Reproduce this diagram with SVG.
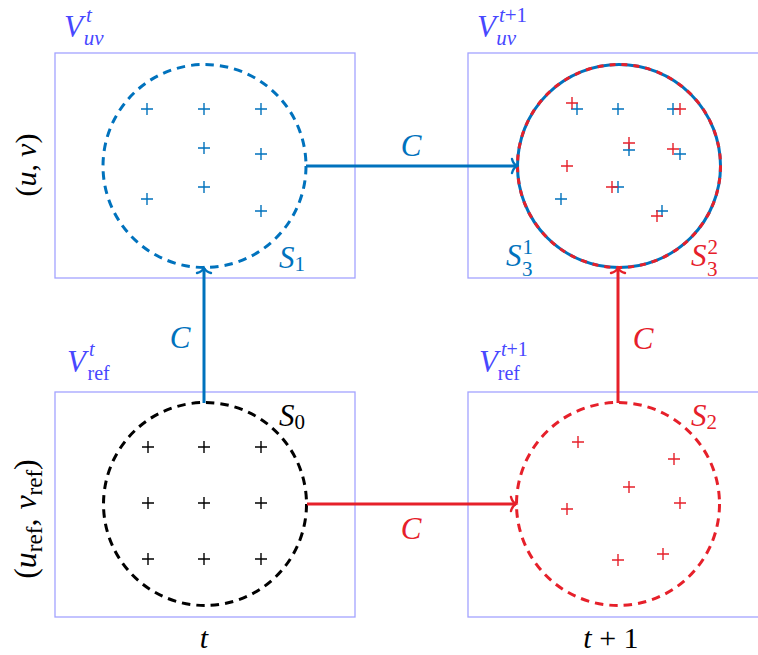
<svg xmlns="http://www.w3.org/2000/svg" width="758" height="655" viewBox="0 0 758 655">
<style>
.box{fill:none;stroke:#a3a3ff;stroke-width:1.3}
.dc{fill:none;stroke-width:3;stroke-dasharray:8.5 6}
.m{font-family:"Liberation Serif","DejaVu Serif",serif;font-style:italic}
.r{font-family:"Liberation Serif","DejaVu Serif",serif;font-style:normal}
.vl{fill:#4848ff}
.blue{fill:#0072bd}
.red{fill:#e6202a}
.blk{fill:#000}
.ar{fill:none;stroke-width:3}
.pb{stroke:#0072bd;stroke-width:1.4;fill:none}
.pr{stroke:#e6202a;stroke-width:1.4;fill:none}
.pk{stroke:#000;stroke-width:1.4;fill:none}
</style>
<defs>
<path id="p" d="M-6,0H6M0,-6V6"/>
<marker id="hb" markerUnits="userSpaceOnUse" markerWidth="20" markerHeight="20" refX="0" refY="0" viewBox="-10 -10 20 20" orient="auto" overflow="visible">
<path d="M-5,-7 C-4,-3 -1.5,-0.8 0,0 C-1.5,0.8 -4,3 -5,7" fill="none" stroke="#0072bd" stroke-width="2.4" stroke-linecap="round"/>
</marker>
<marker id="hr" markerUnits="userSpaceOnUse" markerWidth="20" markerHeight="20" refX="0" refY="0" viewBox="-10 -10 20 20" orient="auto" overflow="visible">
<path d="M-5,-7 C-4,-3 -1.5,-0.8 0,0 C-1.5,0.8 -4,3 -5,7" fill="none" stroke="#e6202a" stroke-width="2.4" stroke-linecap="round"/>
</marker>
</defs>

<g id="axis-labels">
<text class="blk" font-size="30" transform="translate(36,165) rotate(-90)" text-anchor="middle"><tspan class="r">(</tspan><tspan class="m">u</tspan><tspan class="r">,</tspan><tspan class="m" dx="7">v</tspan><tspan class="r">)</tspan></text>
<text class="blk" font-size="32" transform="translate(36,519) rotate(-90)" text-anchor="middle"><tspan class="r">(</tspan><tspan class="m">u</tspan><tspan class="r" font-size="23" dy="6">ref</tspan><tspan class="r" dy="-6">,</tspan><tspan class="m" dx="9">v</tspan><tspan class="r" font-size="23" dy="6">ref</tspan><tspan class="r" dy="-6">)</tspan></text>
<text class="m blk" font-size="30" x="204" y="648" text-anchor="middle">t</text>
<text class="blk" font-size="30" x="611" y="648" text-anchor="middle"><tspan class="m">t</tspan><tspan class="r"> + 1</tspan></text>
</g>

<g id="node-S1">
<rect class="box" x="55" y="53" width="300" height="225"/>
<text class="vl" x="64" y="37"><tspan class="m" font-size="31">V</tspan><tspan class="m" font-size="21" dx="3" dy="-15">t</tspan><tspan class="m" font-size="21" dx="-8" dy="23">uv</tspan></text>
<circle class="dc" cx="204.5" cy="166" r="101.5" stroke="#0072bd"/>
<g class="pb">
<use href="#p" x="147" y="109"/><use href="#p" x="204" y="109"/><use href="#p" x="261" y="109"/>
<use href="#p" x="204" y="148"/><use href="#p" x="261" y="154"/><use href="#p" x="204" y="187"/>
<use href="#p" x="147" y="199"/><use href="#p" x="261" y="211"/>
</g>
<text class="blue" x="279" y="268"><tspan class="m" font-size="31">S</tspan><tspan class="r" font-size="21" dy="3">1</tspan></text>
</g>

<g id="node-S3">
<rect class="box" x="468" y="53" width="300" height="225"/>
<text class="vl" x="477" y="37"><tspan class="m" font-size="31">V</tspan><tspan class="m" font-size="21" dx="3" dy="-15">t</tspan><tspan class="r" font-size="21">+1</tspan><tspan class="m" font-size="21" dx="-31" dy="23">uv</tspan></text>
<circle cx="619" cy="166" r="101.5" fill="none" stroke="#0072bd" stroke-width="3"/>
<circle cx="619" cy="166" r="101.5" fill="none" stroke="#e6202a" stroke-width="3" stroke-dasharray="6 6"/>
<g class="pb">
<use href="#p" x="577" y="109"/><use href="#p" x="618" y="109"/><use href="#p" x="673" y="109"/>
<use href="#p" x="629" y="150"/><use href="#p" x="680" y="154"/><use href="#p" x="618" y="187"/>
<use href="#p" x="561" y="199"/><use href="#p" x="662" y="211"/>
</g>
<g class="pr">
<use href="#p" x="572" y="103"/><use href="#p" x="680" y="109"/><use href="#p" x="629" y="143"/>
<use href="#p" x="673" y="149"/><use href="#p" x="567" y="166"/><use href="#p" x="612" y="187"/>
<use href="#p" x="657" y="216"/>
</g>
<text class="blue" x="506" y="266"><tspan class="m" font-size="31">S</tspan><tspan class="r" font-size="21" dx="1" dy="-12">1</tspan><tspan class="r" font-size="21" dx="-11" dy="22">3</tspan></text>
<text class="red" x="691" y="266"><tspan class="m" font-size="31">S</tspan><tspan class="r" font-size="21" dx="1" dy="-12">2</tspan><tspan class="r" font-size="21" dx="-11" dy="22">3</tspan></text>
</g>

<g id="node-S0">
<rect class="box" x="55" y="392" width="300" height="225"/>
<text class="vl" x="67" y="372"><tspan class="m" font-size="31">V</tspan><tspan class="m" font-size="20" dx="3" dy="-16">t</tspan><tspan class="r" font-size="20" dx="-7" dy="24">ref</tspan></text>
<circle class="dc" cx="205" cy="504" r="101.5" stroke="#000"/>
<g class="pk">
<use href="#p" x="148" y="447"/><use href="#p" x="204" y="447"/><use href="#p" x="261" y="447"/>
<use href="#p" x="148" y="503"/><use href="#p" x="204" y="503"/><use href="#p" x="261" y="503"/>
<use href="#p" x="148" y="559"/><use href="#p" x="204" y="559"/><use href="#p" x="261" y="559"/>
</g>
<text class="blk" x="279" y="426"><tspan class="m" font-size="31">S</tspan><tspan class="r" font-size="21" dy="3">0</tspan></text>
</g>

<g id="node-S2">
<rect class="box" x="468" y="392" width="300" height="225"/>
<text class="vl" x="479" y="372"><tspan class="m" font-size="31">V</tspan><tspan class="m" font-size="20" dx="3" dy="-16">t</tspan><tspan class="r" font-size="20">+1</tspan><tspan class="r" font-size="20" dx="-30" dy="24">ref</tspan></text>
<circle class="dc" cx="618" cy="504" r="101.5" stroke="#e6202a"/>
<g class="pr">
<use href="#p" x="578" y="442"/><use href="#p" x="674" y="459"/><use href="#p" x="629" y="487"/>
<use href="#p" x="567" y="509"/><use href="#p" x="680" y="503"/><use href="#p" x="618" y="560"/>
<use href="#p" x="663" y="554"/>
</g>
<text class="red" x="691" y="426"><tspan class="m" font-size="31">S</tspan><tspan class="r" font-size="21" dy="3">2</tspan></text>
</g>

<g id="connectors">
<line class="ar" x1="306" y1="166" x2="517" y2="166" stroke="#0072bd" marker-end="url(#hb)"/>
<line class="ar" x1="204" y1="403" x2="204" y2="268" stroke="#0072bd" marker-end="url(#hb)"/>
<line class="ar" x1="307" y1="504" x2="516" y2="504" stroke="#e6202a" marker-end="url(#hr)"/>
<line class="ar" x1="618" y1="403" x2="618" y2="268" stroke="#e6202a" marker-end="url(#hr)"/>
<text class="m blue" font-size="31" x="411" y="156" text-anchor="middle">C</text>
<text class="m blue" font-size="31" x="180" y="348" text-anchor="middle">C</text>
<text class="m red" font-size="31" x="411" y="539" text-anchor="middle">C</text>
<text class="m red" font-size="31" x="643" y="349" text-anchor="middle">C</text>
</g>
</svg>
